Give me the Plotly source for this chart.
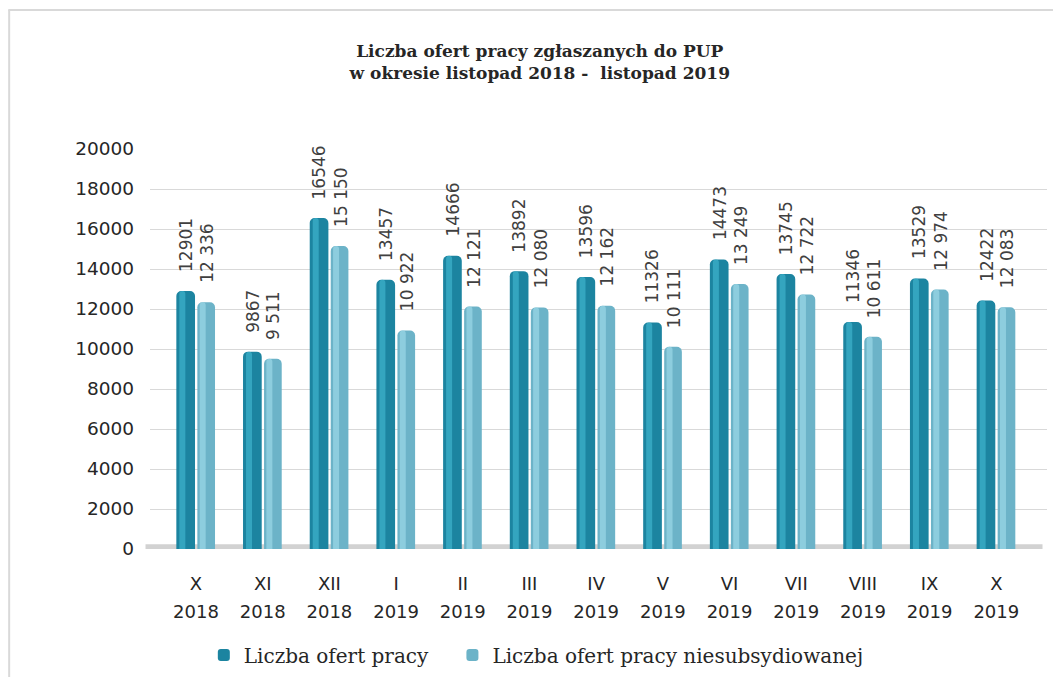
import plotly.graph_objects as go

# ── Data ──────────────────────────────────────────────────────────────────
MONTHS = ["X", "XI", "XII", "I", "II", "III", "IV", "V", "VI", "VII", "VIII", "IX", "X"]
YEARS = ["2018", "2018", "2018", "2019", "2019", "2019", "2019",
         "2019", "2019", "2019", "2019", "2019", "2019"]
OFERTY = [12901, 9867, 16546, 13457, 14666, 13892, 13596,
          11326, 14473, 13745, 11346, 13529, 12422]
OFERTY_NIESUB = [12336, 9511, 15150, 10922, 12121, 12080, 12162,
                 10111, 13249, 12722, 10611, 12974, 12083]

NAME_1 = "Liczba ofert pracy"
NAME_2 = "Liczba ofert pracy niesubsydiowanej"

cats = [f"{m} {y}" for m, y in zip(MONTHS, YEARS)]
X_RANGE = [-0.69, 12.76]

DARK, DARK_HI = "#1c84a0", "#3cb0ca"
LIGHT, LIGHT_HI = "#6cb3c8", "#98d5e6"
TXT = "#404040"
AX_TXT = "#262626"

fig = go.Figure()

# main bars (cylinder-ish: base + highlight strip)
fig.add_trace(go.Bar(
    x=cats, y=OFERTY, name=NAME_1 + "\u00a0" * 3, width=0.28, offset=-0.295,
    marker=dict(color=DARK, line=dict(width=0), cornerradius=5),
    hoverinfo="skip",
))
fig.add_trace(go.Bar(
    x=cats, y=OFERTY_NIESUB, name=NAME_2, width=0.265, offset=0.02,
    marker=dict(color=LIGHT, line=dict(width=0), cornerradius=5),
    hoverinfo="skip",
))
fig.add_trace(go.Bar(
    x=cats, y=OFERTY, width=0.09, offset=-0.25, showlegend=False,
    marker=dict(color=DARK_HI, line=dict(width=0), cornerradius=3, opacity=0.75),
    hoverinfo="skip",
))
fig.add_trace(go.Bar(
    x=cats, y=OFERTY_NIESUB, width=0.09, offset=0.055, showlegend=False,
    marker=dict(color=LIGHT_HI, line=dict(width=0), cornerradius=3, opacity=0.75),
    hoverinfo="skip",
))

# ── Rotated data labels ───────────────────────────────────────────────────
annotations = []
for c, v1, v2 in zip(cats, OFERTY, OFERTY_NIESUB):
    annotations.append(dict(
        x=c, y=v1, xref="x", yref="y", text=str(v1), textangle=-90,
        showarrow=False, xanchor="center", yanchor="bottom",
        xshift=-10, yshift=17,
        font=dict(size=17, color=TXT, family="DejaVu Sans"),
    ))
    annotations.append(dict(
        x=c, y=v2, xref="x", yref="y", text=f"{v2:,}".replace(",", " "),
        textangle=-90, showarrow=False, xanchor="center", yanchor="bottom",
        xshift=11, yshift=17,
        font=dict(size=17, color=TXT, family="DejaVu Sans"),
    ))

# ── Floor + outer frame ───────────────────────────────────────────────────
shapes = [
    dict(type="rect", xref="paper", yref="y", x0=-0.005, x1=0.995,
         y0=-200, y1=240, fillcolor="#d2d2d2", line=dict(width=0), layer="below"),
    dict(type="line", xref="paper", yref="paper", x0=-0.158, x1=1.3,
         y0=1.3475, y1=1.3475, line=dict(color="#d9d9d9", width=2)),
    dict(type="line", xref="paper", yref="paper", x0=-0.157, x1=-0.157,
         y0=1.3475, y1=-0.5, line=dict(color="#d9d9d9", width=2)),
]

# page body has an 8px margin -> figure is 8px smaller and shifted
fig.update_layout(
    width=1053, height=669,
    paper_bgcolor="white", plot_bgcolor="white",
    barmode="overlay",
    margin=dict(l=142, r=14, t=141, b=128),
    title=dict(
        text="Liczba ofert pracy zgłaszanych do PUP<br>w okresie listopad 2018 -  listopad 2019",
        x=0.505, xanchor="center", y=0.927, yanchor="middle",
        font=dict(family="DejaVu Serif", size=17, color=AX_TXT, weight="bold"),
    ),
    xaxis=dict(
        type="category", categoryorder="array", categoryarray=cats,
        range=X_RANGE, showgrid=False, zeroline=False,
        showline=False, ticks="",
        tickmode="array", tickvals=cats, ticktext=MONTHS,
        tickfont=dict(family="DejaVu Sans", size=18, color=AX_TXT),
        ticklabelstandoff=22,
    ),
    xaxis2=dict(
        overlaying="x", anchor="y", side="bottom",
        range=X_RANGE, showgrid=False, zeroline=False,
        showline=False, ticks="",
        tickmode="array", tickvals=list(range(len(YEARS))), ticktext=YEARS,
        tickfont=dict(family="DejaVu Sans", size=18, color=AX_TXT),
        ticklabelstandoff=50,
    ),
    yaxis=dict(
        range=[0, 20000], dtick=2000, tickformat="d",
        showgrid=True, gridcolor="#d9d9d9", gridwidth=1,
        zeroline=False, showline=False, ticks="",
        tickfont=dict(family="DejaVu Sans", size=18.5, color=AX_TXT),
        ticklabelstandoff=15,
    ),
    legend=dict(
        orientation="h", x=0.060, xanchor="left",
        yref="container", y=0.033, yanchor="middle",
        font=dict(family="DejaVu Serif", size=20, color=AX_TXT),
        bgcolor="rgba(0,0,0,0)", itemclick=False,
    ),
    annotations=annotations,
    shapes=shapes,
    showlegend=True,
)

# dummy invisible trace so the year axis is drawn
fig.add_trace(go.Scatter(
    x=list(range(len(YEARS))), y=[0] * len(YEARS), xaxis="x2",
    mode="markers", marker=dict(opacity=0), showlegend=False, hoverinfo="skip",
))

fig.write_html("out.html")
